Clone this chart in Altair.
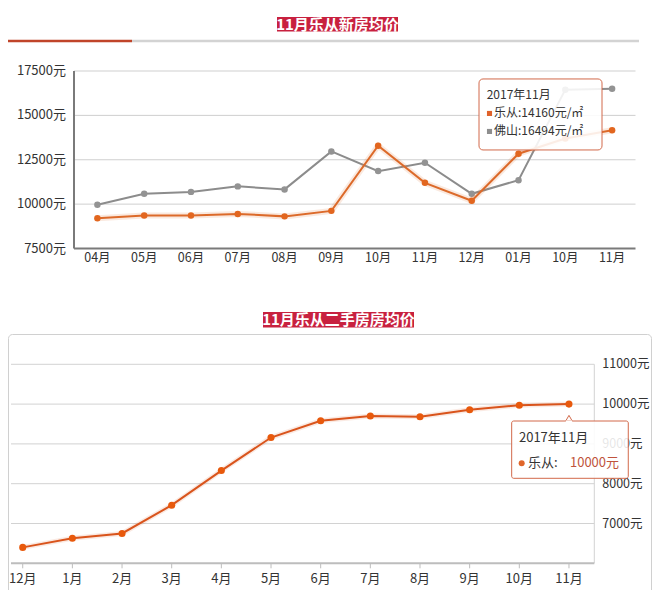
import altair as alt
import pandas as pd

FONT = "Noto Sans CJK SC"

# ---------------- data ----------------
top_title = "11月乐从新房均价"
top_months = ["04月", "05月", "06月", "07月", "08月", "09月", "10月", "11月", "12月", "01月", "10月", "11月"]
lecong_new = [9200, 9360, 9360, 9450, 9310, 9620, 13290, 11200, 10190, 12840, 13700, 14160]
foshan_new = [9960, 10580, 10690, 11000, 10830, 12970, 11860, 12330, 10580, 11350, 16450, 16494]
top_ticks = [7500, 10000, 12500, 15000, 17500]

bottom_title = "11月乐从二手房房均价"
bottom_months = ["12月", "1月", "2月", "3月", "4月", "5月", "6月", "7月", "8月", "9月", "10月", "11月"]
lecong_second = [6400, 6630, 6750, 7460, 8330, 9160, 9580, 9700, 9680, 9860, 9970, 10000]
bottom_ticks = [7000, 8000, 9000, 10000, 11000]
bottom_base = 6000

tip_title = "2017年11月"
series_names = ["乐从", "佛山"]

# ---------------- colours ----------------
ORANGE = "#DC6A2A"
GRAY = "#8C8C8C"
ORANGE2 = "#D9541C"
ORANGE2_PT = "#E8590C"
CRIMSON = "#C8213F"
TIP_BORDER = "#D2694A"
TXT = "#333333"

# ---------------- scales ----------------
TXS = alt.Scale(domain=[-0.5, 11.5], range=[66, 627.5], nice=False, zero=False)
TYS = alt.Scale(domain=[7500, 17500], range=[240.5, 63], nice=False, zero=False)
BXS = alt.Scale(domain=[-0.236, 11.51], range=[3, 586.3], nice=False, zero=False)
BYS = alt.Scale(domain=[6000, 11000], range=[555.3, 356.3], nice=False, zero=False)
TX0, TX1 = -0.5, 11.5
BX0, BX1 = -0.236, 11.51


def X(sc, field=None, datum=None):
    if field is not None:
        return alt.X(field, type="quantitative", scale=sc, axis=None)
    return alt.X(datum=datum, type="quantitative", scale=sc, axis=None)


def Y(sc, field=None, datum=None):
    if field is not None:
        return alt.Y(field, type="quantitative", scale=sc, axis=None)
    return alt.Y(datum=datum, type="quantitative", scale=sc, axis=None)


one = pd.DataFrame({"k": [0]})

df_top = pd.DataFrame({
    "i": list(range(len(top_months))),
    "m": top_months,
    "lecong": lecong_new,
    "foshan": foshan_new,
})
df_top_ticks = pd.DataFrame({"v": top_ticks, "lab": [f"{v}元" for v in top_ticks]})

df_bot = pd.DataFrame({
    "i": list(range(len(bottom_months))),
    "m": bottom_months,
    "v": lecong_second,
})
df_bot_ticks = pd.DataFrame({"v": bottom_ticks, "lab": [f"{v}元" for v in bottom_ticks]})

layers = []

# ---------------- headers ----------------
df_tt = pd.DataFrame({"t": [top_title]})
layers.append(alt.Chart(df_tt).mark_rect(color=CRIMSON).encode(
    x=alt.value(269), x2=alt.value(390), y=alt.value(9), y2=alt.value(23.5)))
layers.append(alt.Chart(df_tt).mark_text(font=FONT, fontSize=15, fontWeight="bold", color="white",
                                         align="center", baseline="middle").encode(
    x=alt.value(329.5), y=alt.value(16.5), text="t:N"))
layers.append(alt.Chart(one).mark_rule(color="#D3D3D3", strokeWidth=2.5).encode(
    x=alt.value(124), x2=alt.value(631), y=alt.value(33)))
layers.append(alt.Chart(one).mark_rule(color="#C0452A", strokeWidth=2.5).encode(
    x=alt.value(0), x2=alt.value(124), y=alt.value(33)))

# ---------------- top panel ----------------
layers.append(alt.Chart(df_top_ticks[df_top_ticks.v > top_ticks[0]]).mark_rule(color="#CFCFCF", strokeWidth=1).encode(
    x=X(TXS, datum=TX0), x2=alt.X2(datum=TX1), y=Y(TYS, "v")))
layers.append(alt.Chart(one).mark_rule(color="#7A7A7A", strokeWidth=2).encode(
    x=X(TXS, datum=TX0), y=Y(TYS, datum=top_ticks[0]), y2=alt.Y2(datum=top_ticks[-1])))
layers.append(alt.Chart(one).mark_rule(color="#7A7A7A", strokeWidth=2).encode(
    x=X(TXS, datum=TX0), x2=alt.X2(datum=TX1), y=Y(TYS, datum=top_ticks[0])))
layers.append(alt.Chart(df_top_ticks).mark_text(font=FONT, fontSize=13, color=TXT, align="right",
                                                baseline="middle", dx=-8).encode(
    x=X(TXS, datum=TX0), y=Y(TYS, "v"), text="lab:N"))
layers.append(alt.Chart(df_top).mark_text(font=FONT, fontSize=12.5, color=TXT, align="center",
                                          baseline="top", dy=3).encode(
    x=X(TXS, "i"), y=Y(TYS, datum=top_ticks[0]), text="m:N"))

layers.append(alt.Chart(df_top).mark_line(color=GRAY, strokeWidth=2).encode(
    x=X(TXS, "i"), y=Y(TYS, "foshan")))
layers.append(alt.Chart(df_top).mark_circle(color="#939393", size=42, opacity=1).encode(
    x=X(TXS, "i"), y=Y(TYS, "foshan")))
layers.append(alt.Chart(df_top).mark_line(color=ORANGE, strokeWidth=6, opacity=0.15).encode(
    x=X(TXS, "i"), y=Y(TYS, "lecong")))
layers.append(alt.Chart(df_top).mark_line(color=ORANGE, strokeWidth=2).encode(
    x=X(TXS, "i"), y=Y(TYS, "lecong")))
layers.append(alt.Chart(df_top).mark_circle(color="#E2661F", size=42, opacity=1).encode(
    x=X(TXS, "i"), y=Y(TYS, "lecong")))

# top tooltip anchored at the last 佛山 point
last_i = len(top_months) - 1
ax_t = X(TXS, datum=last_i)
ay_t = Y(TYS, datum=foshan_new[-1])
layers.append(alt.Chart(one).mark_rect(fill="white", fillOpacity=0.88, stroke=TIP_BORDER, strokeWidth=1,
                                       cornerRadius=4, xOffset=-133.1, x2Offset=-10.1,
                                       yOffset=-9.9, y2Offset=61.1).encode(
    x=ax_t, x2=alt.X2(datum=last_i), y=ay_t, y2=alt.Y2(datum=foshan_new[-1])))
df_tip_t = pd.DataFrame({"t": [tip_title]})
layers.append(alt.Chart(df_tip_t).mark_text(font=FONT, fontSize=12, color=TXT, align="left",
                                            baseline="middle", dx=-125.4, dy=6.6).encode(
    x=ax_t, y=ay_t, text="t:N"))
rows = [
    (f"{series_names[0]}:{lecong_new[-1]}元/㎡", "#E0622A", 24.6),
    (f"{series_names[1]}:{foshan_new[-1]}元/㎡", "#8E8E8E", 42.6),
]
for txt, col, dy in rows:
    d = pd.DataFrame({"t": [txt]})
    layers.append(alt.Chart(d).mark_point(shape="square", filled=True, color=col, size=26, opacity=1,
                                          xOffset=-122.6, yOffset=dy).encode(x=ax_t, y=ay_t))
    layers.append(alt.Chart(d).mark_text(font=FONT, fontSize=12, color=TXT, align="left",
                                         baseline="middle", dx=-118.1, dy=dy).encode(
        x=ax_t, y=ay_t, text="t:N"))

# ---------------- bottom panel ----------------
df_bt = pd.DataFrame({"t": [bottom_title]})
layers.append(alt.Chart(one).mark_rect(fill="white", stroke="#D0D0D0", strokeWidth=1, cornerRadius=4).encode(
    x=alt.value(0.5), x2=alt.value(643.5), y=alt.value(326.5), y2=alt.value(610)))
layers.append(alt.Chart(df_bt).mark_rect(color=CRIMSON).encode(
    x=alt.value(255), x2=alt.value(406), y=alt.value(304), y2=alt.value(319.5)))
layers.append(alt.Chart(df_bt).mark_text(font=FONT, fontSize=15, fontWeight="bold", color="white",
                                         align="center", baseline="middle").encode(
    x=alt.value(330.5), y=alt.value(311.8), text="t:N"))

layers.append(alt.Chart(df_bot_ticks).mark_rule(color="#D2D2D2", strokeWidth=1).encode(
    x=X(BXS, datum=BX0), x2=alt.X2(datum=BX1), y=Y(BYS, "v")))
layers.append(alt.Chart(one).mark_rule(color="#D2D2D2", strokeWidth=1).encode(
    x=X(BXS, datum=BX1), y=Y(BYS, datum=bottom_base), y2=alt.Y2(datum=bottom_ticks[-1])))
layers.append(alt.Chart(one).mark_rule(color="#BDBDBD", strokeWidth=2).encode(
    x=X(BXS, datum=BX0), x2=alt.X2(datum=BX1), y=Y(BYS, datum=bottom_base)))
layers.append(alt.Chart(df_bot).mark_rule(color="#BDBDBD", strokeWidth=1, y2Offset=5).encode(
    x=X(BXS, "i"), y=Y(BYS, datum=bottom_base), y2=alt.Y2(datum=bottom_base)))
layers.append(alt.Chart(df_bot).mark_text(font=FONT, fontSize=13, color=TXT, align="center",
                                          baseline="top", dy=10).encode(
    x=X(BXS, "i"), y=Y(BYS, datum=bottom_base), text="m:N"))
layers.append(alt.Chart(df_bot_ticks).mark_text(font=FONT, fontSize=12.5, color=TXT, align="left",
                                                baseline="middle", dx=8).encode(
    x=X(BXS, datum=BX1), y=Y(BYS, "v"), text="lab:N"))

layers.append(alt.Chart(df_bot).mark_line(color=ORANGE2, strokeWidth=5, opacity=0.12).encode(
    x=X(BXS, "i"), y=Y(BYS, "v")))
layers.append(alt.Chart(df_bot).mark_line(color=ORANGE2, strokeWidth=2).encode(
    x=X(BXS, "i"), y=Y(BYS, "v")))
layers.append(alt.Chart(df_bot).mark_circle(color=ORANGE2_PT, size=50, opacity=1).encode(
    x=X(BXS, "i"), y=Y(BYS, "v")))

# bottom tooltip anchored at the last point
ax_b = X(BXS, datum=last_i)
ay_b = Y(BYS, datum=lecong_second[-1])
layers.append(alt.Chart(one).mark_rect(fill="white", fillOpacity=0.88, stroke=TIP_BORDER, strokeWidth=1,
                                       cornerRadius=2, xOffset=-57.3, x2Offset=59.3,
                                       yOffset=16.9, y2Offset=74.2).encode(
    x=ax_b, x2=alt.X2(datum=last_i), y=ay_b, y2=alt.Y2(datum=lecong_second[-1])))
layers.append(alt.Chart(one).mark_point(shape="triangle-up", filled=True, fill="white", stroke=TIP_BORDER,
                                        strokeWidth=1, size=40, opacity=1, yOffset=14).encode(
    x=ax_b, y=ay_b))
layers.append(alt.Chart(one).mark_rule(color="white", strokeWidth=2, yOffset=17.3, xOffset=-3.2, x2Offset=3.2).encode(
    x=ax_b, x2=alt.X2(datum=last_i), y=ay_b))
layers.append(alt.Chart(df_tip_t).mark_text(font=FONT, fontSize=13, color=TXT, align="left",
                                            baseline="middle", dx=-50, dy=34.2).encode(
    x=ax_b, y=ay_b, text="t:N"))
layers.append(alt.Chart(one).mark_circle(color="#E0662A", size=36, opacity=1, xOffset=-47.3,
                                         yOffset=59.2).encode(x=ax_b, y=ay_b))
df_nm = pd.DataFrame({"t": [series_names[0] + ":"]})
layers.append(alt.Chart(df_nm).mark_text(font=FONT, fontSize=13, color=TXT, align="left",
                                         baseline="middle", dx=-41, dy=59.2).encode(
    x=ax_b, y=ay_b, text="t:N"))
df_val = pd.DataFrame({"t": [f"{lecong_second[-1]}元"]})
layers.append(alt.Chart(df_val).mark_text(font=FONT, fontSize=13, color="#C0533C", align="left",
                                          baseline="middle", dx=1, dy=59.2).encode(
    x=ax_b, y=ay_b, text="t:N"))

chart = alt.layer(*layers).resolve_scale(x="independent", y="independent").properties(
    width=644, height=582, autosize=alt.AutoSizeParams(type="none"), padding=0
).configure_view(stroke=None)

chart.save("out.html", embed_options={"renderer": "svg", "actions": False})
